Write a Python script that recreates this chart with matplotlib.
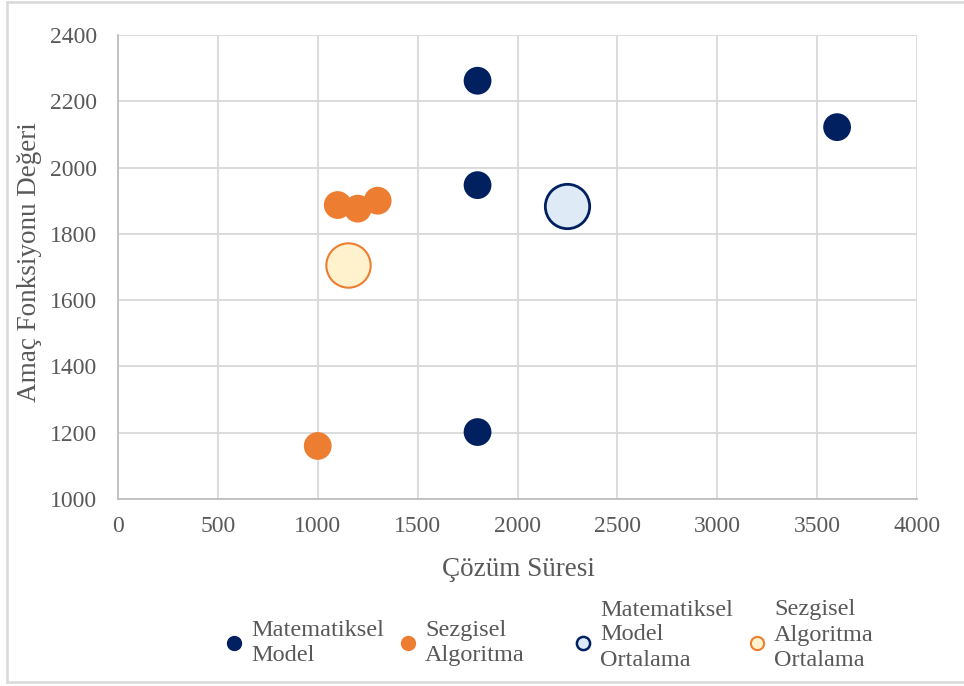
import matplotlib.pyplot as plt
from matplotlib.lines import Line2D

# solution time vs objective value
model_time = [1800, 1800, 1800, 3600]
model_value = [2262, 1947, 1202, 2122]

heur_time = [1000, 1100, 1200, 1300]
heur_value = [1160, 1887, 1876, 1900]

model_avg_time = [2250]
model_avg_value = [1883]
heur_avg_time = [1150]
heur_avg_value = [1706]

x_ticks = [0, 500, 1000, 1500, 2000, 2500, 3000, 3500, 4000]
y_ticks = [1000, 1200, 1400, 1600, 1800, 2000, 2200, 2400]

legend_labels = ["Matematiksel\nModel", "Sezgisel\nAlgoritma",
                 "Matematiksel\nModel\nOrtalama", "Sezgisel\nAlgoritma\nOrtalama"]

navy = "#002060"
orange = "#ED7D31"
navy_light = "#DEEBF7"
orange_light = "#FFF2CC"
text_gray = "#595959"
grid_gray = "#D9D9D9"

plt.rcParams["font.family"] = ["Liberation Serif", "DejaVu Serif"]

W, H = 964, 686
fig = plt.figure(figsize=(W / 100, H / 100), dpi=100)
ax = fig.add_axes([118 / W, 1 - 499 / H, 799 / W, 464 / H])

ax.scatter(model_time, model_value, s=400, color=navy, edgecolors="none", zorder=3)
ax.scatter(heur_time, heur_value, s=400, color=orange, edgecolors="none", zorder=3)
ax.scatter(model_avg_time, model_avg_value, s=1020, color=navy_light,
           edgecolors=navy, linewidths=2, zorder=3)
ax.scatter(heur_avg_time, heur_avg_value, s=1020, color=orange_light,
           edgecolors=orange, linewidths=1.5, zorder=3)

ax.set_xlim(0, 4000)
ax.set_ylim(1000, 2400)
ax.set_xticks(x_ticks)
ax.set_yticks(y_ticks)
ax.grid(True, color=grid_gray, lw=1.3, zorder=0)
ax.set_axisbelow(True)
for side in ["top", "right"]:
    ax.spines[side].set_visible(False)
for side in ["left", "bottom"]:
    ax.spines[side].set_color("#BFBFBF")
    ax.spines[side].set_linewidth(1.3)
ax.tick_params(length=0, labelsize=17, labelcolor=text_gray)
ax.tick_params(axis="y", pad=15)
ax.tick_params(axis="x", pad=12)

fig.text(518 / W, 1 - 570 / H, "Çözüm Süresi", fontsize=19.5, color=text_gray,
         ha="center", va="center")
fig.text(30 / W, 1 - 262 / H, "Amaç Fonksiyonu Değeri", fontsize=19.5, color=text_gray,
         ha="center", va="center", rotation=90)

# legend drawn entry by entry so the columns are evenly spaced
marker_styles = [
    dict(markersize=10, color=navy),
    dict(markersize=10, color=orange),
    dict(markersize=9.5, markerfacecolor=navy_light, markeredgecolor=navy, markeredgewidth=1.8),
    dict(markersize=9.5, markerfacecolor=orange_light, markeredgecolor=orange, markeredgewidth=1.5),
]
marker_x = [234, 408, 583, 757]
for mx, style, label in zip(marker_x, marker_styles, legend_labels):
    fig.add_artist(Line2D([mx / W], [1 - 643 / H], ls="", marker="o",
                          transform=fig.transFigure, **style))
    n_lines = label.count("\n") + 1
    ty = 643 if n_lines == 2 else 635
    fig.text((mx + 17) / W, 1 - ty / H, label, fontsize=17.5, color=text_gray,
             ha="left", va="center", linespacing=1.25)

# chart border (left, top, bottom)
border = dict(color=grid_gray, lw=1.8, transform=fig.transFigure)
fig.add_artist(Line2D([7 / W, 7 / W], [1 - 682 / H, 1 - 1.5 / H], **border))
fig.add_artist(Line2D([7 / W, 1], [1 - 1.5 / H, 1 - 1.5 / H], **border))
fig.add_artist(Line2D([7 / W, 1], [1 - 682 / H, 1 - 682 / H], **border))

fig.savefig("out.png", dpi=100)
